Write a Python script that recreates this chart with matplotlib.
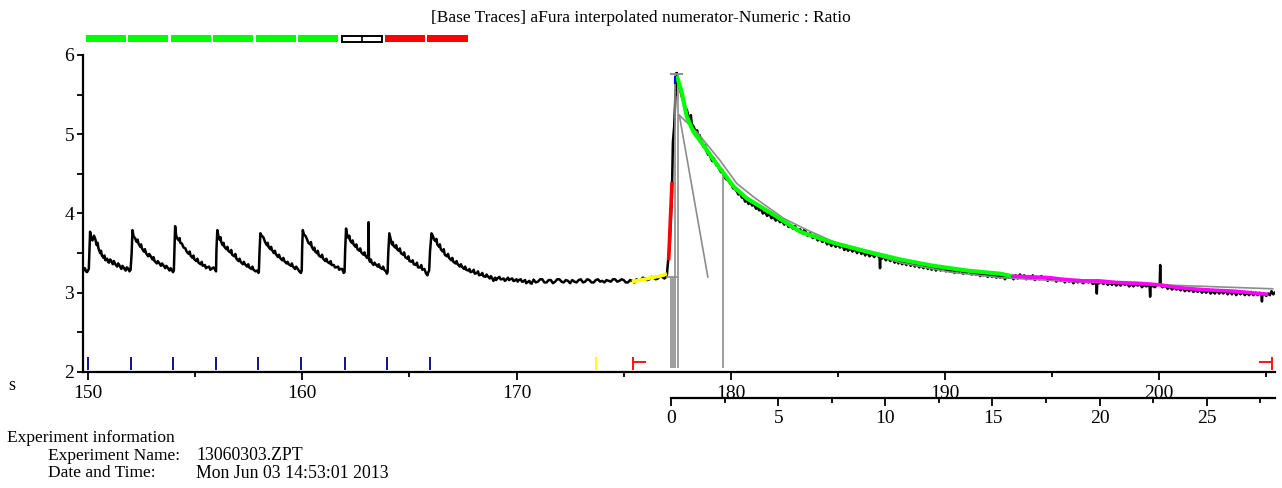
import matplotlib
matplotlib.use("Agg")
import matplotlib.pyplot as plt
from matplotlib.patches import Rectangle
from matplotlib.ticker import MultipleLocator, FixedLocator

plt.rcParams["font.family"] = ["Liberation Serif", "DejaVu Serif"]

# ---- data ----
# black ratio trace, repeated transients (time s, ratio)
trace_spikes = [
    (149.75, 3.27), (149.8, 3.30), (149.85, 3.31), (149.9, 3.27), (149.95, 3.26), (150.03, 3.30),
    (150.06, 3.55), (150.09, 3.77), (150.14, 3.69), (150.2, 3.66), (150.27, 3.72), (150.33, 3.68),
    (150.4, 3.60), (150.44, 3.63), (150.48, 3.56), (150.56, 3.50), (150.6, 3.53), (150.64, 3.47),
    (150.72, 3.44), (150.76, 3.47), (150.8, 3.41), (150.88, 3.43), (150.93, 3.39), (150.97, 3.38),
    (151.02, 3.42), (151.06, 3.41), (151.15, 3.36), (151.2, 3.40), (151.25, 3.37), (151.35, 3.33),
    (151.4, 3.37), (151.45, 3.35), (151.55, 3.30), (151.6, 3.34), (151.65, 3.32), (151.75, 3.28),
    (151.8, 3.32), (151.85, 3.31), (151.93, 3.27),
    (151.98, 3.29), (152.03, 3.50), (152.07, 3.79), (152.12, 3.71), (152.19, 3.69), (152.23, 3.66),
    (152.27, 3.64), (152.31, 3.67), (152.35, 3.62), (152.43, 3.58), (152.47, 3.61), (152.51, 3.56),
    (152.6, 3.52), (152.65, 3.55), (152.7, 3.50), (152.8, 3.46), (152.85, 3.49), (152.9, 3.47),
    (153.0, 3.42), (153.05, 3.45), (153.1, 3.40), (153.2, 3.37), (153.25, 3.40), (153.3, 3.38),
    (153.4, 3.34), (153.45, 3.37), (153.5, 3.35), (153.6, 3.31), (153.65, 3.34), (153.7, 3.32),
    (153.8, 3.28), (153.85, 3.31), (153.9, 3.29), (153.96, 3.26),
    (154.0, 3.28), (154.03, 3.55), (154.06, 3.84), (154.11, 3.72), (154.17, 3.68), (154.24, 3.66),
    (154.27, 3.69), (154.3, 3.63), (154.38, 3.62), (154.42, 3.59), (154.46, 3.57), (154.54, 3.56),
    (154.58, 3.53), (154.62, 3.51), (154.7, 3.49), (154.74, 3.52), (154.78, 3.47), (154.87, 3.44),
    (154.92, 3.47), (154.96, 3.42), (155.05, 3.40), (155.1, 3.43), (155.15, 3.38), (155.25, 3.36),
    (155.3, 3.39), (155.35, 3.34), (155.45, 3.35), (155.5, 3.31), (155.55, 3.32), (155.65, 3.33),
    (155.7, 3.29), (155.75, 3.30), (155.85, 3.32), (155.93, 3.29),
    (155.97, 3.27), (155.99, 3.55), (156.03, 3.79), (156.08, 3.72), (156.14, 3.67), (156.18, 3.70),
    (156.21, 3.64), (156.28, 3.60), (156.32, 3.63), (156.36, 3.58), (156.45, 3.55), (156.5, 3.58),
    (156.54, 3.53), (156.63, 3.51), (156.68, 3.54), (156.72, 3.48), (156.82, 3.46), (156.87, 3.49),
    (156.92, 3.43), (157.02, 3.40), (157.07, 3.43), (157.12, 3.39), (157.22, 3.36), (157.27, 3.39),
    (157.32, 3.36), (157.42, 3.33), (157.47, 3.36), (157.52, 3.32), (157.62, 3.30), (157.67, 3.33),
    (157.72, 3.29), (157.82, 3.27), (157.9, 3.28), (157.95, 3.25),
    (157.97, 3.27), (158.0, 3.52), (158.04, 3.75), (158.1, 3.72), (158.18, 3.70), (158.22, 3.67),
    (158.26, 3.64), (158.34, 3.60), (158.38, 3.63), (158.42, 3.58), (158.5, 3.55), (158.54, 3.58),
    (158.58, 3.54), (158.67, 3.50), (158.72, 3.53), (158.76, 3.49), (158.86, 3.45), (158.91, 3.48),
    (158.96, 3.44), (159.06, 3.41), (159.11, 3.44), (159.16, 3.40), (159.26, 3.37), (159.31, 3.39),
    (159.36, 3.36), (159.46, 3.34), (159.51, 3.37), (159.56, 3.33), (159.66, 3.30), (159.71, 3.33),
    (159.76, 3.31), (159.86, 3.27), (159.93, 3.25),
    (159.97, 3.28), (159.99, 3.55), (160.02, 3.79), (160.08, 3.73), (160.14, 3.72), (160.21, 3.68),
    (160.25, 3.65), (160.28, 3.63), (160.36, 3.61), (160.4, 3.64), (160.44, 3.58), (160.52, 3.54),
    (160.56, 3.57), (160.6, 3.52), (160.68, 3.50), (160.72, 3.53), (160.77, 3.47), (160.87, 3.45),
    (160.92, 3.48), (160.97, 3.43), (161.07, 3.40), (161.12, 3.43), (161.17, 3.39), (161.27, 3.37),
    (161.32, 3.40), (161.37, 3.35), (161.47, 3.35), (161.52, 3.32), (161.57, 3.32), (161.67, 3.33),
    (161.72, 3.29), (161.77, 3.30), (161.86, 3.30), (161.93, 3.25),
    (161.97, 3.26), (162.0, 3.55), (162.04, 3.81), (162.09, 3.73), (162.15, 3.69), (162.19, 3.72),
    (162.23, 3.66), (162.31, 3.63), (162.35, 3.66), (162.39, 3.61), (162.48, 3.58), (162.52, 3.61),
    (162.57, 3.55), (162.66, 3.53), (162.7, 3.56), (162.75, 3.51), (162.85, 3.48), (162.9, 3.51),
    (162.94, 3.47), (163.02, 3.44), (163.07, 3.45), (163.09, 3.89), (163.11, 3.42), (163.16, 3.39),
    (163.2, 3.42), (163.24, 3.38), (163.32, 3.35), (163.37, 3.38), (163.42, 3.36), (163.52, 3.33),
    (163.57, 3.36), (163.62, 3.32), (163.72, 3.30), (163.77, 3.33), (163.82, 3.29), (163.9, 3.27),
    (163.95, 3.24),
    (163.98, 3.26), (164.01, 3.50), (164.06, 3.75), (164.12, 3.68), (164.18, 3.61), (164.22, 3.64),
    (164.26, 3.59), (164.34, 3.57), (164.38, 3.60), (164.42, 3.55), (164.5, 3.53), (164.55, 3.56),
    (164.6, 3.50), (164.7, 3.48), (164.75, 3.51), (164.8, 3.45), (164.9, 3.43), (164.95, 3.46),
    (165.0, 3.40), (165.1, 3.39), (165.15, 3.41), (165.2, 3.36), (165.3, 3.35), (165.35, 3.38),
    (165.4, 3.32), (165.5, 3.32), (165.55, 3.35), (165.6, 3.29), (165.7, 3.30), (165.78, 3.24),
    (165.84, 3.22), (165.88, 3.26),
    (165.92, 3.28), (165.96, 3.52), (166.03, 3.75), (166.09, 3.72), (166.15, 3.67), (166.22, 3.65),
    (166.26, 3.68), (166.3, 3.61), (166.38, 3.58), (166.42, 3.61), (166.46, 3.55), (166.55, 3.52),
    (166.6, 3.55), (166.65, 3.48), (166.75, 3.46), (166.8, 3.49), (166.85, 3.44), (166.95, 3.41),
    (167.0, 3.44), (167.05, 3.39), (167.15, 3.37), (167.2, 3.40), (167.25, 3.36), (167.35, 3.33),
    (167.4, 3.36), (167.45, 3.33), (167.55, 3.30), (167.6, 3.33), (167.65, 3.29), (167.75, 3.28),
    (167.8, 3.30), (167.85, 3.26), (167.95, 3.27), (168.0, 3.29), (168.05, 3.24), (168.15, 3.25),
    (168.2, 3.27), (168.25, 3.22), (168.35, 3.23), (168.4, 3.25), (168.45, 3.21), (168.55, 3.20),
    (168.6, 3.23), (168.65, 3.21), (168.75, 3.18), (168.8, 3.21), (168.85, 3.19), (168.92, 3.15),
    (169.0, 3.19), (169.05, 3.16), (169.1, 3.18), (169.2, 3.20), (169.25, 3.17), (169.3, 3.17),
    (169.4, 3.18), (169.45, 3.15), (169.5, 3.16), (169.6, 3.19), (169.65, 3.16), (169.7, 3.17),
    (169.8, 3.18), (169.85, 3.15), (169.9, 3.15), (170.0, 3.17), (170.05, 3.14), (170.1, 3.16),
    (170.2, 3.17), (170.25, 3.14), (170.3, 3.14), (170.4, 3.16), (170.45, 3.12), (170.5, 3.13),
    (170.6, 3.15), (170.65, 3.12), (170.7, 3.12),
]

# baseline and the big response
trace_baseline = [
    (170.8, 3.16), (170.9, 3.13), (171.0, 3.14), (171.1, 3.17), (171.2, 3.17), (171.3, 3.13),
    (171.4, 3.13), (171.5, 3.16), (171.6, 3.16), (171.7, 3.12), (171.8, 3.14), (171.9, 3.17),
    (172.0, 3.17), (172.1, 3.14), (172.2, 3.13), (172.3, 3.16), (172.4, 3.15), (172.5, 3.12),
    (172.6, 3.16), (172.7, 3.14), (172.8, 3.13), (172.9, 3.16), (173.0, 3.17), (173.1, 3.13),
    (173.2, 3.14), (173.3, 3.17), (173.4, 3.16), (173.5, 3.13), (173.6, 3.13), (173.7, 3.16),
    (173.8, 3.17), (173.9, 3.14), (174.0, 3.15), (174.1, 3.13), (174.2, 3.16), (174.3, 3.15),
    (174.4, 3.14), (174.5, 3.17), (174.6, 3.17), (174.7, 3.14), (174.8, 3.15), (174.9, 3.17),
    (175.0, 3.16), (175.1, 3.13), (175.2, 3.13), (175.3, 3.16), (175.4, 3.15), (175.5, 3.13),
    (175.6, 3.17), (175.7, 3.15), (175.8, 3.16), (175.9, 3.19), (176.0, 3.18), (176.1, 3.16),
    (176.2, 3.17), (176.3, 3.20), (176.4, 3.19), (176.5, 3.17), (176.6, 3.18), (176.7, 3.21),
    (176.8, 3.20), (176.9, 3.18), (176.95, 3.19), (177.02, 3.22), (177.05, 3.33), (177.08, 3.41),
    (177.15, 3.60), (177.25, 4.20), (177.3, 4.90), (177.36, 5.10), (177.42, 5.50),
]

trace_decay = [
    (177.48, 5.77), (177.55, 5.68), (177.6, 5.63), (177.64, 5.56), (177.72, 5.47), (177.79, 5.43),
    (177.87, 5.33), (177.95, 5.31), (178.03, 5.22), (178.1, 5.20), (178.14, 5.24), (178.18, 5.13),
    (178.26, 5.10), (178.32, 5.06), (178.37, 5.02), (178.43, 5.05), (178.49, 4.97), (178.55, 4.99),
    (178.6, 4.92), (178.66, 4.90), (178.73, 4.84), (178.8, 4.86), (178.85, 4.80), (178.95, 4.74),
    (179.0, 4.77), (179.04, 4.72), (179.1, 4.68), (179.15, 4.66), (179.2, 4.70), (179.25, 4.67),
    (179.35, 4.60), (179.4, 4.62), (179.45, 4.57), (179.55, 4.52), (179.6, 4.55), (179.66, 4.50),
    (179.73, 4.45), (179.8, 4.43), (179.88, 4.42), (179.97, 4.38), (180.05, 4.37), (180.1, 4.32),
    (180.2, 4.31), (180.28, 4.28), (180.36, 4.24), (180.45, 4.25), (180.52, 4.20), (180.59, 4.21),
    (180.67, 4.15), (180.75, 4.17), (180.83, 4.12), (180.91, 4.15), (181.0, 4.10), (181.1, 4.11),
    (181.18, 4.06), (181.25, 4.08), (181.33, 4.04), (181.4, 4.06), (181.5, 4.00), (181.6, 4.02),
    (181.7, 3.97), (181.8, 4.00), (181.9, 3.94), (182.0, 3.96), (182.1, 3.91), (182.2, 3.94),
    (182.3, 3.89), (182.4, 3.91), (182.5, 3.86), (182.6, 3.89), (182.7, 3.83), (182.8, 3.85),
    (182.9, 3.81), (183.0, 3.84), (183.12, 3.78), (183.24, 3.80), (183.35, 3.75), (183.45, 3.80),
    (183.58, 3.72), (183.71, 3.75), (183.83, 3.69), (183.95, 3.72), (184.06, 3.66), (184.17, 3.69),
    (184.28, 3.64), (184.4, 3.67), (184.5, 3.61), (184.6, 3.64), (184.7, 3.59), (184.79, 3.63),
    (184.9, 3.58), (185.0, 3.61), (185.1, 3.57), (185.2, 3.61), (185.3, 3.54), (185.4, 3.57),
    (185.48, 3.53), (185.57, 3.57), (185.68, 3.52), (185.8, 3.55), (185.9, 3.50), (186.0, 3.55),
    (186.1, 3.49), (186.2, 3.52), (186.28, 3.47), (186.35, 3.52), (186.48, 3.46), (186.6, 3.49),
    (186.7, 3.45), (186.8, 3.50), (186.95, 3.44), (186.97, 3.31), (186.99, 3.45), (187.06, 3.43),
    (187.13, 3.47), (187.24, 3.41), (187.35, 3.44), (187.45, 3.40), (187.55, 3.44), (187.65, 3.38),
    (187.75, 3.41), (187.83, 3.37), (187.91, 3.42), (188.0, 3.36), (188.1, 3.39), (188.2, 3.35),
    (188.3, 3.40), (188.4, 3.34), (188.5, 3.37), (188.6, 3.33), (188.69, 3.38), (188.8, 3.32),
    (188.9, 3.35), (189.0, 3.31), (189.1, 3.36), (189.2, 3.30), (189.3, 3.33), (189.38, 3.29),
    (189.46, 3.34), (189.58, 3.28), (189.7, 3.32), (189.8, 3.28), (189.9, 3.33), (190.05, 3.27),
    (190.15, 3.31), (190.24, 3.27), (190.35, 3.30), (190.45, 3.25), (190.55, 3.30), (190.65, 3.26),
    (190.75, 3.29), (190.85, 3.24), (190.93, 3.28), (191.02, 3.25), (191.12, 3.28), (191.25, 3.23),
    (191.35, 3.27), (191.45, 3.23), (191.55, 3.26), (191.65, 3.21), (191.72, 3.25), (191.8, 3.22),
    (191.9, 3.25), (192.0, 3.20), (192.1, 3.24), (192.2, 3.20), (192.3, 3.23), (192.4, 3.19),
    (192.5, 3.22), (192.58, 3.19), (192.7, 3.22), (192.8, 3.17), (192.9, 3.21), (193.0, 3.19),
    (193.1, 3.22), (193.2, 3.17), (193.3, 3.22), (193.4, 3.18), (193.5, 3.23), (193.6, 3.19),
    (193.7, 3.22), (193.8, 3.17), (193.9, 3.21), (194.0, 3.18), (194.1, 3.22), (194.2, 3.16),
    (194.3, 3.20), (194.4, 3.17), (194.5, 3.21), (194.6, 3.18), (194.7, 3.20), (194.8, 3.15),
    (194.9, 3.19), (195.0, 3.16), (195.1, 3.18), (195.2, 3.14), (195.3, 3.18), (195.4, 3.15),
    (195.5, 3.17), (195.6, 3.13), (195.7, 3.17), (195.8, 3.14), (195.9, 3.16), (196.0, 3.12),
    (196.1, 3.16), (196.2, 3.13), (196.3, 3.16), (196.45, 3.12), (196.58, 3.15), (196.7, 3.13),
    (196.8, 3.15), (196.9, 3.11), (197.07, 3.13), (197.09, 2.99), (197.11, 3.13), (197.2, 3.12),
    (197.3, 3.14), (197.4, 3.11), (197.5, 3.14), (197.6, 3.10), (197.7, 3.13), (197.8, 3.10),
    (197.9, 3.13), (198.0, 3.09), (198.1, 3.12), (198.2, 3.09), (198.3, 3.12), (198.4, 3.10),
    (198.5, 3.12), (198.6, 3.08), (198.7, 3.11), (198.8, 3.08), (198.9, 3.11), (199.0, 3.09),
    (199.1, 3.11), (199.2, 3.07), (199.3, 3.10), (199.4, 3.08), (199.5, 3.10), (199.56, 3.07),
    (199.58, 2.95), (199.6, 3.07), (199.7, 3.09), (199.8, 3.07), (199.9, 3.10), (200.0, 3.10),
    (200.03, 3.12), (200.05, 3.35), (200.07, 3.10), (200.15, 3.07), (200.3, 3.09), (200.4, 3.05),
    (200.5, 3.08), (200.6, 3.04), (200.7, 3.07), (200.8, 3.04), (200.9, 3.06), (201.0, 3.03),
    (201.12, 3.06), (201.2, 3.02), (201.3, 3.05), (201.4, 3.02), (201.5, 3.05), (201.6, 3.01),
    (201.7, 3.04), (201.8, 3.01), (201.9, 3.04), (202.0, 3.00), (202.1, 3.03), (202.2, 3.00),
    (202.3, 3.04), (202.4, 2.99), (202.5, 3.02), (202.6, 2.99), (202.69, 3.03), (202.8, 2.99),
    (202.9, 3.02), (203.0, 2.99), (203.1, 3.03), (203.2, 2.98), (203.3, 3.02), (203.4, 2.98),
    (203.5, 3.02), (203.6, 2.97), (203.7, 3.01), (203.8, 2.98), (203.9, 3.01), (204.0, 2.97),
    (204.1, 3.00), (204.2, 2.97), (204.3, 3.01), (204.4, 2.97), (204.5, 3.00), (204.6, 2.97),
    (204.7, 3.00), (204.78, 2.97), (204.8, 2.89), (204.82, 2.97), (204.9, 2.99), (205.0, 2.96),
    (205.09, 2.99), (205.17, 2.97), (205.25, 3.02), (205.33, 2.98), (205.4, 3.00),
]

# fitted pieces
fit_baseline = [(175.38, 3.14), (175.8, 3.16), (176.3, 3.19), (176.7, 3.21), (177.02, 3.24)]
fit_rise = [(177.1, 3.41), (177.26, 4.40)]
fit_decay = [
    (177.48, 5.74), (177.72, 5.52), (177.95, 5.22), (178.26, 5.03), (178.73, 4.86), (179.19, 4.68),
    (179.66, 4.51), (180.13, 4.34), (180.75, 4.19), (181.37, 4.09), (182.15, 3.96), (183.24, 3.77),
    (184.8, 3.63), (186.35, 3.52), (187.91, 3.42), (189.46, 3.34), (191.02, 3.28), (192.58, 3.24),
    (193.12, 3.21),
]
fit_tail = [
    (193.12, 3.21), (194.0, 3.20), (194.9, 3.19), (195.5, 3.17), (196.45, 3.15), (197.2, 3.15),
    (198.0, 3.13), (199.0, 3.12), (200.05, 3.10), (200.5, 3.08), (201.1, 3.06), (202.0, 3.04),
    (202.7, 3.03), (203.5, 3.02), (204.3, 3.00), (205.1, 2.98),
]
model_curve = [
    (177.6, 5.24), (178.41, 5.03), (179.5, 4.67), (180.28, 4.38), (181.06, 4.21), (182.46, 3.94),
    (183.5, 3.80), (185.0, 3.62), (187.9, 3.38), (190.24, 3.26), (192.6, 3.19), (196.0, 3.14),
    (200.05, 3.10), (205.3, 3.05),
]
slope_line = [(177.6, 5.24), (178.93, 3.20)]

# markers
stim_times = [150.01, 151.99, 153.98, 155.96, 157.95, 159.93, 162.0, 163.97, 165.97]
stim_states = ["ok", "ok", "ok", "ok", "ok", "ok", "skip", "bad", "bad"]
yellow_mark = 173.71
range_start, range_end = 175.44, 205.27
gray_posts = [177.19, 177.31, 177.42, 177.54, 179.63]
gray_post_tops = [3.2, 3.2, 5.76, 5.76, 4.48]
peak_time, peak_value = 177.48, 5.76
rise_base = 3.2
sub_zero = 177.22
sub_major = [0, 5, 10, 15, 20, 25]
sub_minor = [2.5, 7.5, 12.5, 17.5, 22.5, 27.5]

title = "[Base Traces] aFura interpolated numerator-Numeric : Ratio"

# ---- figure ----
W, H = 1282, 488
fig = plt.figure(figsize=(W / 100, H / 100), dpi=100)
ax = fig.add_axes([82.6 / W, (H - 372) / H, (1275 - 82.6) / W, (372 - 55) / H])
ax.set_xlim(149.74, 205.41)
ax.set_ylim(2, 6)

for s in ["top", "right"]:
    ax.spines[s].set_visible(False)
for s in ["left", "bottom"]:
    ax.spines[s].set_linewidth(1.6)

ax.xaxis.set_major_locator(MultipleLocator(10))
ax.set_xticks([155, 165, 175, 185, 195, 205], minor=True)
ax.yaxis.set_major_locator(MultipleLocator(1))
ax.yaxis.set_minor_locator(MultipleLocator(0.5))
ax.tick_params(axis="x", which="major", direction="out", length=6, width=1.3, labelsize=14, pad=3)
ax.tick_params(axis="x", which="minor", direction="out", length=3.5, width=1.3)
ax.tick_params(axis="y", which="both", direction="out", length=4, width=1.3, labelsize=14, pad=2)

gray = "#8c8c8c"

# stimulus ticks and range markers
ax.vlines(stim_times, 2.02, 2.19, color="#000080", lw=1.3)
ax.vlines([yellow_mark], 2.02, 2.19, color="#ffff00", lw=1.3)
ax.vlines([range_start, range_end], 2.02, 2.19, color="red", lw=1.3)
ax.hlines(2.12, range_start, range_start + 0.62, color="red", lw=1.3)
ax.hlines(2.12, range_end - 0.62, range_end, color="red", lw=1.3)

# trace
for part in (trace_spikes, trace_baseline, trace_decay):
    ax.plot(*zip(*part), color="black", lw=1.8)
ax.plot(*zip(*(trace_spikes[-1:] + trace_baseline[:1])), color="black", lw=1.8)
ax.plot(*zip(*(trace_baseline[-1:] + trace_decay[:1])), color="black", lw=1.8)

# gray construction lines
ax.vlines(gray_posts, 2.05, gray_post_tops, color=gray, lw=1.2)
ax.hlines(rise_base, 177.0, 177.55, color=gray, lw=1.2)
ax.hlines(peak_value, 177.17, 177.78, color=gray, lw=1.4)
ax.plot(*zip(*slope_line), color=gray, lw=1.2)
ax.plot(*zip(*model_curve), color=gray, lw=1.2)

# fits
ax.plot(*zip(*fit_baseline), color="#ffff00", lw=2.6, solid_capstyle="butt")
ax.plot(*zip(*fit_rise), color="red", lw=2.6, solid_capstyle="butt")
ax.plot(*zip(*fit_decay), color="#00ff00", lw=3.0, solid_capstyle="butt")
ax.plot(*zip(*fit_tail), color="#ff00ff", lw=2.6, solid_capstyle="butt")
ax.vlines([177.4], 5.64, 5.74, color="blue", lw=1.5)

# status bar above the plot
bar_colors = {"ok": "#00ff00", "bad": "red"}
for t, state in zip(stim_times, stim_states):
    if state == "skip":
        ax.add_patch(Rectangle((t - 0.13, 6.17), 1.83, 0.075, facecolor="white",
                               edgecolor="black", lw=1.4, clip_on=False))
        ax.plot([t + 0.79, t + 0.79], [6.17, 6.245], color="black", lw=1.2, clip_on=False)
    else:
        ax.add_patch(Rectangle((t - 0.13, 6.165), 1.87, 0.085, facecolor=bar_colors[state],
                               edgecolor="none", clip_on=False))

# relative time axis underneath
sec = ax.secondary_xaxis(-0.082, functions=(lambda x: x - sub_zero, lambda x: x + sub_zero))
sec.xaxis.set_major_locator(FixedLocator(sub_major))
sec.xaxis.set_minor_locator(FixedLocator(sub_minor))
sec.spines["bottom"].set_bounds(0, 205.41 - sub_zero)
sec.spines["bottom"].set_linewidth(1.6)
sec.tick_params(axis="x", which="major", direction="out", length=6, width=1.3, labelsize=14, pad=3)
sec.tick_params(axis="x", which="minor", direction="out", length=3.5, width=1.3)

# texts
fig.text(0.5, 1 - 18 / H, title, ha="center", va="center", fontsize=12.5)
fig.text(12 / W, 1 - 385 / H, "s", ha="center", va="center", fontsize=13)
fig.text(7 / W, 1 - 438 / H, "Experiment information", ha="left", va="center", fontsize=12.5)
fig.text(48 / W, 1 - 456 / H, "Experiment Name:", ha="left", va="center", fontsize=12.5)
fig.text(196 / W, 1 - 456 / H, "13060303.ZPT", ha="left", va="center", fontsize=12.8)
fig.text(48 / W, 1 - 473 / H, "Date and Time:", ha="left", va="center", fontsize=12.5)
fig.text(196 / W, 1 - 473 / H, "Mon Jun 03 14:53:01 2013", ha="left", va="center", fontsize=12.8)

fig.savefig("out.png", dpi=100)
